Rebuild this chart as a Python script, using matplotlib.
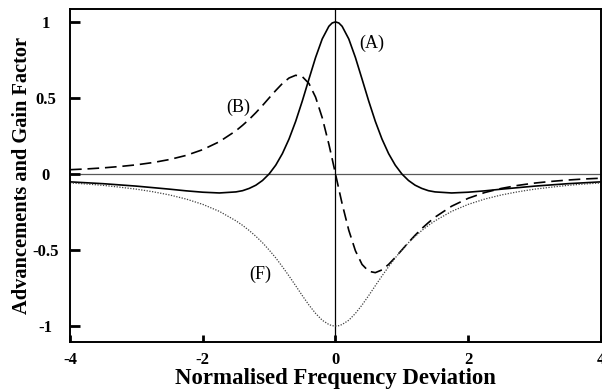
import matplotlib
matplotlib.use("Agg")
import matplotlib.pyplot as plt

# values
x = [-4, -3.75, -3.5, -3.25, -3, -2.75, -2.5, -2.25, -2, -1.75, -1.5, -1.4, -1.3, -1.2, -1.1,
     -1.0, -0.9, -0.8, -0.7, -0.6, -0.5, -0.4, -0.3, -0.2, -0.1, -0.05, 0,
     0.05, 0.1, 0.2, 0.3, 0.4, 0.5, 0.6, 0.7, 0.8, 0.9, 1.0,
     1.1, 1.2, 1.3, 1.4, 1.5, 1.75, 2, 2.25, 2.5, 2.75, 3, 3.25, 3.5, 3.75, 4]

gain_a = [-0.052, -0.058, -0.064, -0.072, -0.080, -0.090, -0.100, -0.111, -0.120, -0.125, -0.118,
          -0.110, -0.095, -0.074, -0.043, 0.0, 0.058, 0.134, 0.230, 0.346, 0.480, 0.624, 0.766,
          0.888, 0.971, 0.993, 1.0,
          0.993, 0.971, 0.888, 0.766, 0.624, 0.480, 0.346, 0.230, 0.134, 0.058, 0.0,
          -0.043, -0.074, -0.095, -0.110, -0.118, -0.125, -0.120, -0.111, -0.100, -0.090, -0.080,
          -0.072, -0.064, -0.058, -0.052]

adv_b = [0.028, 0.033, 0.040, 0.049, 0.060, 0.075, 0.095, 0.122, 0.160, 0.212, 0.284, 0.320,
         0.359, 0.403, 0.450, 0.500, 0.549, 0.595, 0.631, 0.649, 0.640, 0.595, 0.505, 0.370,
         0.196, 0.099, 0.0,
         -0.099, -0.196, -0.370, -0.505, -0.595, -0.640, -0.649, -0.631, -0.595, -0.549, -0.500,
         -0.450, -0.403, -0.359, -0.320, -0.284, -0.212, -0.160, -0.122, -0.095, -0.075,
         -0.060, -0.049, -0.040, -0.033, -0.028]

fac_f = [-0.059, -0.066, -0.075, -0.087, -0.100, -0.117, -0.138, -0.165, -0.200, -0.246, -0.308,
         -0.338, -0.372, -0.410, -0.452, -0.500, -0.552, -0.610, -0.671, -0.735, -0.800, -0.862,
         -0.917, -0.962, -0.990, -0.998, -1.0,
         -0.998, -0.990, -0.962, -0.917, -0.862, -0.800, -0.735, -0.671, -0.610, -0.552, -0.500,
         -0.452, -0.410, -0.372, -0.338, -0.308, -0.246, -0.200, -0.165, -0.138, -0.117,
         -0.100, -0.087, -0.075, -0.066, -0.059]

xticks = [-4, -2, 0, 2, 4]
yticks = [-1, -0.5, 0, 0.5, 1]
ytick_labels = ["-1", "-0.5", "0", "0.5", "1"]

plt.rcParams['font.family'] = ['Liberation Serif', 'DejaVu Serif']

fig = plt.figure(figsize=(6.02, 3.92), dpi=100)
ax = fig.add_axes([0.1163, 0.1276, 0.882, 0.8495])

ax.axhline(0, color='0.35', lw=0.9, zorder=1)
ax.axvline(0, color='black', lw=0.9, zorder=1)

ax.plot(x, gain_a, color='black', lw=1.2)
ax.plot(x, adv_b, color='black', lw=1.2, dashes=(7, 3.5))
ax.plot(x, fac_f, color='0.25', lw=0.9, ls=(0, (1, 1.2)))

ax.text(0.54, 0.86, "(A)", fontsize=13, ha='center', va='center')
ax.text(-1.47, 0.44, "(B)", fontsize=13, ha='center', va='center')
ax.text(-1.13, -0.66, "(F)", fontsize=13, ha='center', va='center')

ax.set_xlim(-4, 4)
ax.set_ylim(-1.105, 1.085)
ax.set_xticks(xticks)
ax.set_xticklabels([str(t) for t in xticks], fontsize=12, fontweight='bold')
ax.set_yticks(yticks)
ax.set_yticklabels(ytick_labels, fontsize=12, fontweight='bold', ha='center')
ax.tick_params(axis='y', direction='in', length=7, width=2, pad=17.6)
ax.tick_params(axis='x', direction='in', length=5, width=2, pad=7.5)

for s in ax.spines.values():
    s.set_linewidth(1.4)

ax.set_xlabel("Normalised Frequency Deviation", fontsize=16.4, fontweight='bold', labelpad=0)
ax.set_ylabel("Advancements and Gain Factor", fontsize=14.7, fontweight='bold', labelpad=0.5)

fig.savefig("out.png", dpi=100)
